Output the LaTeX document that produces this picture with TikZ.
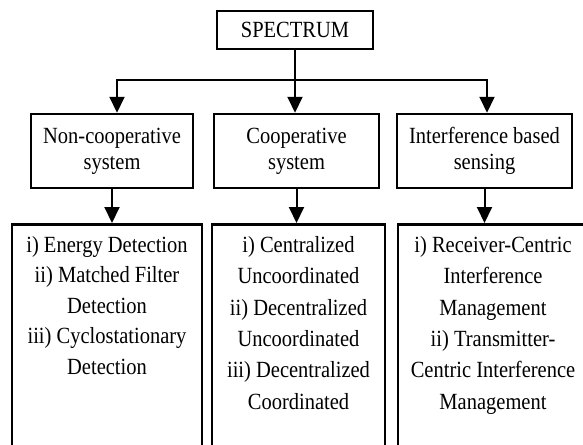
\documentclass[tikz,border=0pt]{standalone}
\usepackage{fontspec}
\setmainfont{Liberation Serif}
\usetikzlibrary{arrows.meta}
\newcommand{\tallbox}[1]{\scalebox{1}[1.13]{#1}}

\begin{document}
\begin{tikzpicture}[x=1pt, y=-1pt, line width=2pt, >={Triangle[width=15pt,length=16pt]}]
\useasboundingbox (0,0) rectangle (583,444);
\clip (0,0) rectangle (583,444);
\tikzstyle{every node} = [draw, rectangle, line width=2.5pt, inner sep=0pt, font=\fontsize{20.5}{23}\selectfont]
\node[minimum width=156, minimum height=38] (sp) at (295,30) {\tallbox{SPECTRUM}};
\node[minimum width=162, minimum height=74] (nc) at (112,151) {\tallbox{\begin{tabular}{@{}c@{}}Non-cooperative\\system\end{tabular}}};
\node[minimum width=165, minimum height=74] (cs) at (296.5,151) {\tallbox{\begin{tabular}{@{}c@{}}Cooperative\\system\end{tabular}}};
\node[minimum width=175, minimum height=74] (ib) at (484.5,151) {\tallbox{\begin{tabular}{@{}c@{}}Interference based\\sensing\end{tabular}}};
\tikzstyle{every node} = [draw, rectangle, line width=2.5pt, anchor=north, inner xsep=0pt, inner ysep=12pt, font=\fontsize{20.5}{27}\selectfont]
\node (ed) at (107,223) {\tallbox{\parbox[t][230pt][t]{190pt}{\centering i) Energy Detection\\ ii) Matched Filter\\ Detection\\ iii) Cyclostationary\\ Detection}}};
\node[font=\fontsize{20.5}{27.8}\selectfont] (cu) at (298.5,223) {\tallbox{\parbox[t][230pt][t]{173pt}{\centering i) Centralized\\ Uncoordinated\\ ii) Decentralized\\ Uncoordinated\\ iii) Decentralized\\ Coordinated}}};
\node[font=\fontsize{20.5}{27.8}\selectfont] (rc) at (493,223) {\tallbox{\parbox[t][230pt][t]{190pt}{\centering i) Receiver-Centric\\ Interference\\ Management\\ ii) Transmitter-\\ Centric Interference\\ Management}}};
\coordinate (bl) at (117,80);
\coordinate (br) at (487,80);
\draw (sp.south) -- (sp.south |- bl);
\draw[->] (sp.south |- bl) -| (bl |- nc.north);
\draw[->] (sp.south |- bl) -| (br |- ib.north);
\draw[->] (sp.south |- bl) -- (sp.south |- cs.north);
\draw[->] (nc.south) -- (nc.south |- ed.north);
\draw[->] (cs.south) -- (cs.south |- cu.north);
\draw[->] (ib.south) -- (ib.south |- rc.north);
\end{tikzpicture}
\end{document}
